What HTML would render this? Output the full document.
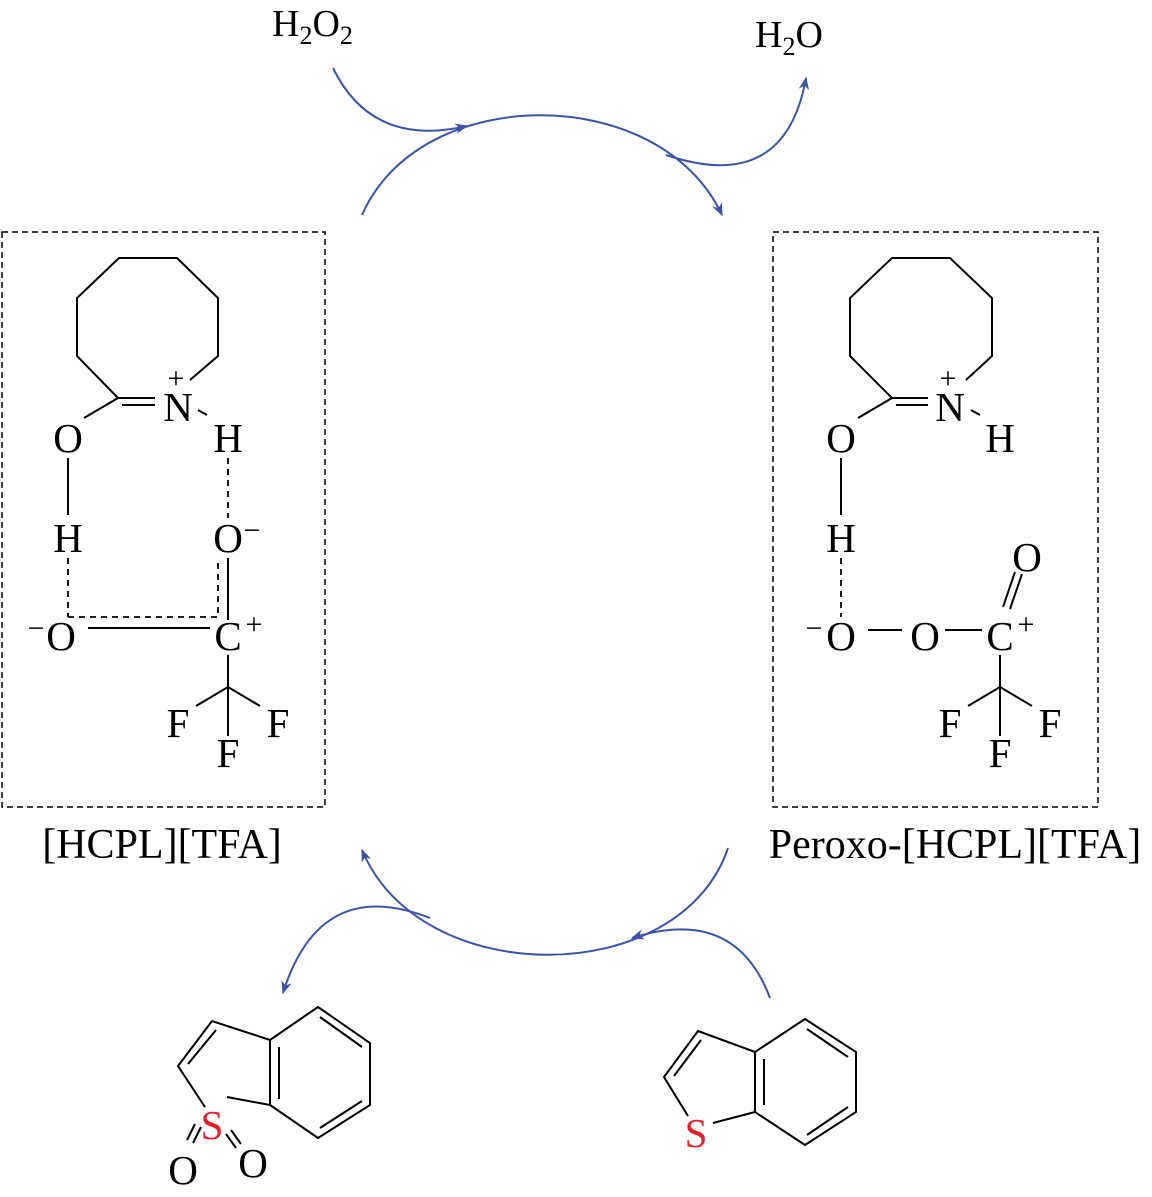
<!DOCTYPE html>
<html><head><meta charset="utf-8"><style>
html,body{margin:0;padding:0;background:#fff;}
svg{display:block;}
text{font-family:"Liberation Serif",serif;fill:#000;}
</style></head><body>
<svg width="1152" height="1197" viewBox="0 0 1152 1197" xmlns="http://www.w3.org/2000/svg">
<defs>
<marker id="ah" viewBox="0 0 10 10" refX="9" refY="5" markerWidth="15" markerHeight="13" orient="auto" markerUnits="userSpaceOnUse">
<path d="M0,1 L10,5 L0,9 L3,5 Z" fill="#3b54a8"/>
</marker>
</defs>
<g fill="none" stroke="#3b54a8" stroke-width="2">
<path d="M362,215 C420,82 660,82 722,215" marker-end="url(#ah)"/>
<path d="M333,68 Q372,148 467,126" marker-end="url(#ah)"/>
<path d="M666,155 Q785,195 806,78" marker-end="url(#ah)"/>
<path d="M728,848 C680,990 420,990 362,850" marker-end="url(#ah)"/>
<path d="M770,998 Q735,905 632,938" marker-end="url(#ah)"/>
<path d="M430,918 Q320,875 283,993" marker-end="url(#ah)"/>
</g>
<text x="272" y="36" font-size="38">H<tspan font-size="26" dy="8">2</tspan><tspan dy="-8">O</tspan><tspan font-size="26" dy="8">2</tspan></text>
<text x="755" y="47" font-size="38">H<tspan font-size="26" dy="8">2</tspan><tspan dy="-8">O</tspan></text>

<rect x="2" y="232" width="323" height="575" fill="none" stroke="#000" stroke-width="1.5" stroke-dasharray="6,4"/>
<g stroke="#000" stroke-width="2" fill="none">
<polyline points="190,380 218,356 218,298 177,258 119,258 77,298 77,356 118,398"/>
<line x1="118" y1="398" x2="155" y2="398"/>
<line x1="122" y1="405" x2="155" y2="405"/>
<line x1="118" y1="398" x2="84" y2="418"/>
<line x1="198" y1="410" x2="207" y2="415"/>
<line x1="68" y1="458" x2="68" y2="515"/>
<line x1="228" y1="620" x2="228" y2="558"/>
<line x1="88" y1="628" x2="210" y2="628"/>
<line x1="228" y1="655" x2="228" y2="736"/>
<line x1="228" y1="687" x2="196" y2="706"/>
<line x1="228" y1="687" x2="260" y2="706"/>
</g>
<g stroke="#000" stroke-width="1.8" fill="none" stroke-dasharray="6,5">
<line x1="228" y1="458" x2="228" y2="518"/>
<line x1="68" y1="558" x2="68" y2="617"/>
<polyline points="68,617 218,617 218,560"/>
</g>
<g font-size="41" text-anchor="middle">
<text x="178" y="421">N</text>
<text x="176" y="388" font-size="30">+</text>
<text x="68" y="452">O</text>
<text x="228" y="452">H</text>
<text x="68" y="552">H</text>
<text x="228" y="552">O</text>
<text x="252" y="540" font-size="30">−</text>
<text x="61" y="650">O</text>
<text x="36" y="638" font-size="30">−</text>
<text x="228" y="650">C</text>
<text x="254" y="634" font-size="30">+</text>
<text x="178" y="737">F</text>
<text x="278" y="737">F</text>
<text x="228" y="767">F</text>
<text x="162" y="858" font-size="42">[HCPL][TFA]</text>
</g>

<rect x="773" y="232" width="325" height="575" fill="none" stroke="#000" stroke-width="1.5" stroke-dasharray="6,4"/>
<g stroke="#000" stroke-width="2" fill="none">
<polyline points="966,380 992,356 992,298 950,258 892,258 850,298 850,356 892,398"/>
<line x1="892" y1="398" x2="928" y2="398"/>
<line x1="896" y1="405" x2="928" y2="405"/>
<line x1="892" y1="398" x2="858" y2="418"/>
<line x1="971" y1="410" x2="980" y2="415"/>
<line x1="841" y1="458" x2="841" y2="515"/>
<line x1="868" y1="630" x2="902" y2="630"/>
<line x1="945" y1="630" x2="982" y2="630"/>
<line x1="1000" y1="655" x2="1000" y2="736"/>
<line x1="1000" y1="687" x2="968" y2="706"/>
<line x1="1000" y1="687" x2="1032" y2="706"/>
<line x1="1003" y1="607" x2="1015" y2="572"/>
<line x1="1010" y1="609" x2="1022" y2="574"/>
</g>
<g stroke="#000" stroke-width="1.8" stroke-dasharray="6,5">
<line x1="841" y1="558" x2="841" y2="617"/>
</g>
<g font-size="41" text-anchor="middle">
<text x="950" y="421">N</text>
<text x="948" y="388" font-size="30">+</text>
<text x="841" y="452">O</text>
<text x="1000" y="452">H</text>
<text x="841" y="552">H</text>
<text x="841" y="650">O</text>
<text x="814" y="638" font-size="30">−</text>
<text x="925" y="650">O</text>
<text x="1000" y="650">C</text>
<text x="1026" y="634" font-size="30">+</text>
<text x="1027" y="571">O</text>
<text x="950" y="737">F</text>
<text x="1050" y="737">F</text>
<text x="1000" y="767">F</text>
<text x="955" y="858" font-size="42">Peroxo-[HCPL][TFA]</text>
</g>

<g stroke="#000" stroke-width="2" fill="none">
<polyline points="205,1107 178,1066 212,1021 270,1040 318,1007 370,1043 370,1105 318,1138 270,1105 270,1040"/>
<line x1="227" y1="1097" x2="270" y2="1105"/>
<line x1="188" y1="1064" x2="216" y2="1030"/>
<line x1="279" y1="1047" x2="279" y2="1099"/>
<line x1="320" y1="1017" x2="362" y2="1047"/>
<line x1="320" y1="1128" x2="362" y2="1101"/>
<line x1="193" y1="1143" x2="201" y2="1127"/>
<line x1="187" y1="1140" x2="195" y2="1124"/>
<line x1="231" y1="1130" x2="241" y2="1144"/>
<line x1="226" y1="1134" x2="236" y2="1148"/>
</g>
<text x="212" y="1139" font-size="41" text-anchor="middle" style="fill:#e8202a">S</text>
<text x="183" y="1184" font-size="41" text-anchor="middle">O</text>
<text x="253" y="1177" font-size="41" text-anchor="middle">O</text>

<g stroke="#000" stroke-width="2" fill="none">
<polyline points="688,1116 664,1077 698,1031 755,1052 805,1019 856,1052 856,1112 805,1145 755,1112 755,1052"/>
<line x1="713" y1="1123" x2="755" y2="1112"/>
<line x1="674" y1="1076" x2="701" y2="1040"/>
<line x1="764" y1="1059" x2="764" y2="1105"/>
<line x1="807" y1="1029" x2="848" y2="1057"/>
<line x1="807" y1="1135" x2="848" y2="1107"/>
</g>
<text x="696" y="1147" font-size="41" text-anchor="middle" style="fill:#e8202a">S</text>
</svg>
</body></html>
